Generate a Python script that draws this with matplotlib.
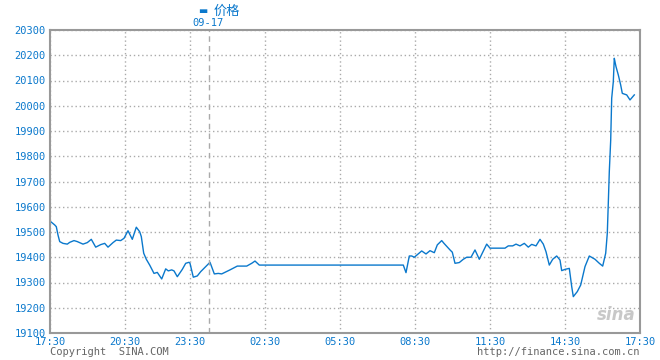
import matplotlib
matplotlib.use("Agg")
import matplotlib.pyplot as plt

# positions along the session (0 = 17:30 open, 590 = 17:30 close)
idx = [0.7, 4.7, 6.3, 8, 9.7, 13, 17.3, 19.7, 24, 27.3,
       33, 37.3, 41.3, 45.7, 50.7, 54.7, 58, 63, 66.3, 70.7,
       74, 78, 82.3, 86.3, 89.7, 91.3, 93.7, 96.3, 99.7, 104,
       107.3, 111.7, 115.7, 118.3, 121.7, 124, 127.3, 132.3, 135.7, 139,
       140, 143.3, 147.3, 150.7, 160, 164.3, 168.3, 171.7, 180, 187.3,
       196.7, 201.7, 205, 209.3, 353.3, 356, 359.3, 361.7, 364.3, 371.7,
       376, 380, 384.3, 387.3, 391.7, 394, 400, 402.3, 405, 409.3,
       413.3, 416.7, 421, 425, 429.3, 436.7, 440, 455, 458.3, 462.7,
       466, 470, 474.3, 478.3, 481.7, 486, 490, 493.3, 496, 499.3,
       502.7, 506.7, 510, 511.7, 515, 519.3, 521.7, 523.3, 527.3, 530.7,
       535, 539.3, 545, 549.3, 552.7, 555.7, 557.3, 558.3, 559.3, 560.7,
       561.7, 563.3, 564.3, 565.3, 566, 568.3, 570.7, 572.3, 576.7, 580,
       584.3]
price = [19541, 19528, 19521, 19488, 19462, 19455, 19452, 19459, 19466, 19462,
         19452, 19458, 19471, 19440, 19450, 19455, 19440, 19458, 19468, 19466,
         19475, 19505, 19471, 19519, 19501, 19482, 19416, 19392, 19369, 19336,
         19340, 19314, 19354, 19346, 19350, 19346, 19323, 19352, 19376, 19380,
         19376, 19321, 19326, 19343, 19380, 19334, 19336, 19334, 19350, 19365,
         19365, 19376, 19385, 19369, 19369, 19339, 19405, 19405, 19400, 19425,
         19413, 19426, 19418, 19449, 19466, 19455, 19429, 19420, 19376, 19379,
         19392, 19400, 19400, 19429, 19392, 19452, 19436, 19436, 19445, 19445,
         19452, 19445, 19455, 19440, 19451, 19445, 19471, 19452, 19422, 19369,
         19392, 19405, 19389, 19347, 19352, 19356, 19284, 19244, 19264, 19290,
         19363, 19405, 19392, 19376, 19365, 19416, 19495, 19614, 19739, 19864,
         20030, 20095, 20188, 20168, 20155, 20122, 20082, 20049, 20043, 20023,
         20043]

tick_pos = [0, 75, 140, 215, 290, 365, 440, 515, 590]
tick_labels = ["17:30", "20:30", "23:30", "02:30", "05:30", "08:30", "11:30", "14:30", "17:30"]
y_ticks = list(range(19100, 20301, 100))
date_pos = 159
date_label = "09-17"
series_name = "价格"

blue = "#0a78cc"
mono = ["DejaVu Sans Mono"]

fig = plt.figure(figsize=(6.6, 3.6), dpi=100)
ax = fig.add_axes([50 / 660, 27 / 360, 590 / 660, 303 / 360])

ax.plot(idx, price, color=blue, lw=1.0)
ax.axvline(date_pos, color="#aaaaaa", lw=1, ls=(0, (4, 3)))

ax.set_xlim(0, 590)
ax.set_ylim(19100, 20300)
ax.set_xticks(tick_pos)
ax.set_xticklabels(tick_labels)
ax.set_yticks(y_ticks)
ax.set_yticklabels([str(v) for v in y_ticks])
ax.grid(True, color="#aaaaaa", ls=(0, (1, 2)), lw=1)
ax.tick_params(length=0, colors=blue, labelsize=7.5, pad=3)
for lab in ax.get_xticklabels() + ax.get_yticklabels():
    lab.set_family(mono)
for s in ax.spines.values():
    s.set_color("#999999")
    s.set_linewidth(1.5)

# legend-like header and date marker
fig.text(203 / 660, 1 - 11 / 360, "▬", color=blue, fontsize=7, va="center",
         ha="center", family=["DejaVu Sans"])
fig.text(214 / 660, 1 - 11 / 360, series_name, color=blue, fontsize=9.5, va="center",
         family=["Noto Sans CJK SC", "DejaVu Sans"])
fig.text(208 / 660, 1 - 23 / 360, date_label, color=blue, fontsize=7.5, va="center",
         ha="center", family=mono)

fig.text(50 / 660, 1 - 352 / 360, "Copyright  SINA.COM", color="#666666", fontsize=7.5,
         va="center", family=mono)
fig.text(640 / 660, 1 - 352 / 360, "http://finance.sina.com.cn", color="#666666",
         fontsize=7.5, va="center", ha="right", family=mono)
fig.text(636 / 660, 1 - 315 / 360, "sina", color="#c8c8c8", fontsize=12, va="center",
         ha="right", style="italic", weight="bold")

fig.savefig("out.png", dpi=100)
